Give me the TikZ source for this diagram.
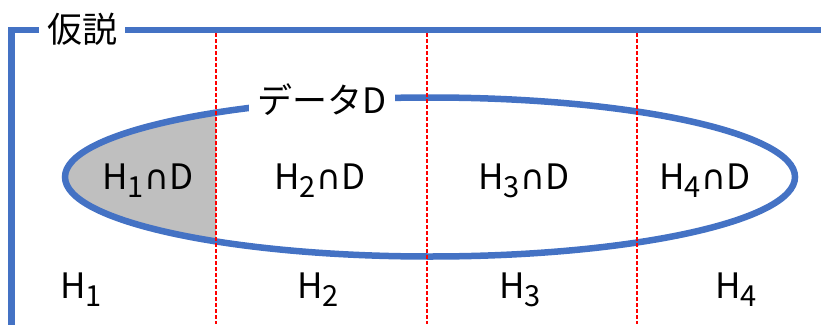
\documentclass[tikz,border=0pt]{standalone}
\usepackage{fontspec}
\setmainfont{Noto Sans CJK JP}
\newfontfamily\capfont{DejaVu Sans}
\definecolor{frameblue}{HTML}{4472C4}
\definecolor{fillgray}{HTML}{BFBFBF}
\newcommand\hsub[1]{\raisebox{-8pt}{\fontsize{29}{29}\selectfont #1}}
\newcommand\hcap{\hspace{0.5pt}{\capfont\fontsize{34}{34}\selectfont ∩}}
\tikzset{
  bigtext/.style={font=\fontsize{35}{35}\selectfont, inner sep=0pt, anchor=center},
  gaplabel/.style={bigtext, fill=white, inner xsep=8pt, inner ysep=4pt},
  bluestroke/.style={draw=frameblue, line width=6.5pt},
  divider/.style={draw=red, line width=1.2pt, dash pattern=on 4pt off 2pt}
}
\begin{document}
\begin{tikzpicture}[x=1pt,y=-1pt]
\useasboundingbox (0,0) rectangle (821,324);
% gray region
\begin{scope}
  \clip (0,0) rectangle (216,324);
  \fill[fillgray] (430,177) ellipse [x radius=365pt, y radius=79.5pt];
\end{scope}
% ellipse
\draw[bluestroke] (430,177) ellipse [x radius=365pt, y radius=79.5pt];
% frame
\draw[bluestroke, line join=miter] (40,30) -- (11.5,30) -- (11.5,330);
\draw[bluestroke] (125,30) -- (830,30);
% dividers
\coordinate (t1) at (216,33); \coordinate (b1) at (216,324);
\coordinate (t2) at (427,33); \coordinate (b2) at (427,324);
\coordinate (t3) at (637,33); \coordinate (b3) at (637,324);
\draw[divider] (t1) -- (b1);
\draw[divider] (t2) -- (b2);
\draw[divider] (t3) -- (b3);
% labels
\node[gaplabel] (hyp) at (82,29) {仮説};
\node[gaplabel] (data) at (322,100) {データD};
\node[bigtext] (i1) at (148,181) {H\hsub{1}\hcap D};
\node[bigtext] (i2) at (320,181) {H\hsub{2}\hcap D};
\node[bigtext] (i3) at (524,181) {H\hsub{3}\hcap D};
\node[bigtext] (i4) at (705,181) {H\hsub{4}\hcap D};
\node[bigtext] (h1) at (81,290) {H\hsub{1}};
\node[bigtext] (h2) at (318,290) {H\hsub{2}};
\node[bigtext] (h3) at (520,290) {H\hsub{3}};
\node[bigtext] (h4) at (736,290) {H\hsub{4}};
\end{tikzpicture}
\end{document}
